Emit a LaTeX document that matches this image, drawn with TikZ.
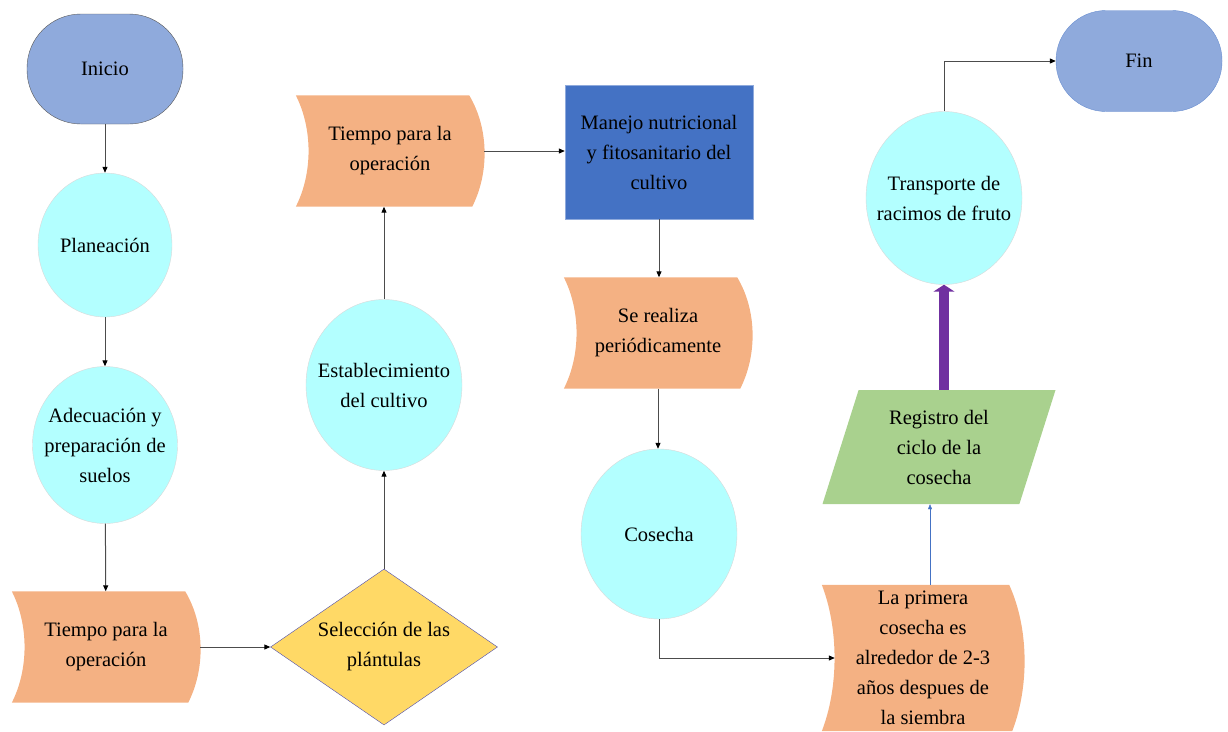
\documentclass[tikz,border=0pt]{standalone}
\usepackage{fontspec}
\setmainfont{Liberation Serif}
\newfontfamily\letra{Liberation Serif}
\usetikzlibrary{shapes.geometric,calc,backgrounds,arrows.meta}

\definecolor{azulextremo}{HTML}{8FAADC}
\definecolor{celeste}{HTML}{B3FFFF}
\definecolor{naranja}{HTML}{F4B183}
\definecolor{azulfuerte}{HTML}{4472C4}
\definecolor{amarillo}{HTML}{FFD966}
\definecolor{verde}{HTML}{A9D18E}
\definecolor{morado}{HTML}{7030A0}

\begin{document}
\begin{tikzpicture}[x=1pt,y=-1pt]

	% styles
	\tikzstyle{every node}=[font=\letra\fontsize{20.5pt}{30pt}\selectfont, align=center, text=black];
	\tikzstyle{extremo}=[rectangle, fill=azulextremo, draw=gray!70!black, thin, minimum width=156pt, minimum height=110pt, rounded corners=54pt];
	\tikzstyle{proceso}=[ellipse, fill=celeste, draw=gray!30, thin];
	\tikzstyle{almacen}=[rectangle, inner sep=0pt, minimum width=188pt, minimum height=111pt];
	\tikzstyle{flecha}=[draw=gray!60!black, line width=1pt, -{Triangle[width=5pt,length=6pt,color=black]}];

	% page size of the diagram
	\useasboundingbox (0,0) rectangle (1228,731);

	% first column
	\node[extremo] (inicio) at (105,69) {Inicio};
	\node[proceso, minimum width=134pt, minimum height=144pt, label=center:{Planeación}] (planeacion) at (105,245) {};
	\node[proceso, minimum width=145pt, minimum height=157pt, label=center:{Adecuación y\\preparación de\\suelos}] (adecuacion) at (105,445) {};
	\node[almacen] (tiempoA) at (106,647) {Tiempo para la\\operación};

	% second column
	\node[diamond, fill=amarillo, draw=gray!60!blue, thin, minimum width=227pt, minimum height=156pt, inner sep=0pt, label=center:{Selección de las\\plántulas}] (seleccion) at (384,647) {};
	\node[proceso, minimum width=156pt, minimum height=171pt, label=center:{Establecimiento\\del cultivo}] (establecimiento) at (384,385) {};
	\node[almacen] (tiempoB) at (390,151) {Tiempo para la\\operación};

	% third column
	\node[rectangle, fill=azulfuerte, draw=azulfuerte!60, thin, minimum width=188pt, minimum height=134pt] (manejo) at (659,152) {Manejo nutricional\\y fitosanitario del\\cultivo};
	\node[almacen] (realiza) at (658,333) {Se realiza\\periódicamente};
	\node[proceso, minimum width=156pt, minimum height=170pt, label=center:{Cosecha}] (cosecha) at (659,534) {};

	% fourth column
	\node[almacen, minimum width=202pt, minimum height=146pt] (primera) at (923,658) {La primera\\cosecha es\\alrededor de 2-3\\años despues de\\la siembra};
	\node[trapezium, trapezium left angle=66, trapezium right angle=114, trapezium stretches body, fill=verde, minimum width=233pt, minimum height=114pt] (registro) at (939,447) {Registro del\\ciclo de la\\cosecha};
	\node[proceso, minimum width=156pt, minimum height=173pt, label=center:{Transporte de\\racimos de fruto}] (transporte) at (944,198) {};
	\node[extremo, draw=azulfuerte!80, minimum width=166pt, minimum height=101pt, rounded corners=50pt] (fin) at (1139,61) {Fin};
	\coordinate (subida) at ($(primera.north)+(7pt,0pt)$);

	% curved shape behind the orange nodes
	\begin{scope}[on background layer]
		\foreach \n in {tiempoA,tiempoB,realiza,primera}
		\fill[naranja] (\n.north west) -- ($(\n.north east)+(-15pt,0pt)$)
			.. controls ($(\n.north east)!0.3!(\n.south east)+(5pt,0pt)$) and ($(\n.north east)!0.7!(\n.south east)+(5pt,0pt)$) .. ($(\n.south east)+(-12pt,0pt)$)
			-- (\n.south west)
			.. controls ($(\n.south west)!0.3!(\n.north west)+(17pt,0pt)$) and ($(\n.south west)!0.7!(\n.north west)+(17pt,0pt)$) .. (\n.north west) -- cycle;
	\end{scope}

	% connectors
	\draw[flecha] (inicio) -- (planeacion);
	\draw[flecha] (planeacion) -- (adecuacion);
	\draw[flecha] (adecuacion) -- (tiempoA);
	\draw[flecha] (tiempoA) -- (seleccion);
	\draw[flecha] (seleccion) -- (establecimiento);
	\draw[flecha] (establecimiento.north) -- (establecimiento.north |- tiempoB.south);
	\draw[flecha] (tiempoB.east) -- (tiempoB.east -| manejo.west);
	\draw[flecha] (manejo.south) -- (manejo.south |- realiza.north);
	\draw[flecha] (realiza.south) -- (realiza.south |- cosecha.north);
	\draw[flecha] (cosecha.south) |- ($(primera.west)+(13pt,0pt)$);
	\draw[draw=azulfuerte, thin, -{Triangle[width=4pt,length=5pt]}] (subida) -- (subida |- registro.south);
	\draw[draw=morado, line width=10pt, -{Triangle[width=21pt,length=7pt]}] (transporte.south |- registro.north) -- (transporte.south);
	\draw[flecha] (transporte.north) |- (fin.west);

\end{tikzpicture}
\end{document}
